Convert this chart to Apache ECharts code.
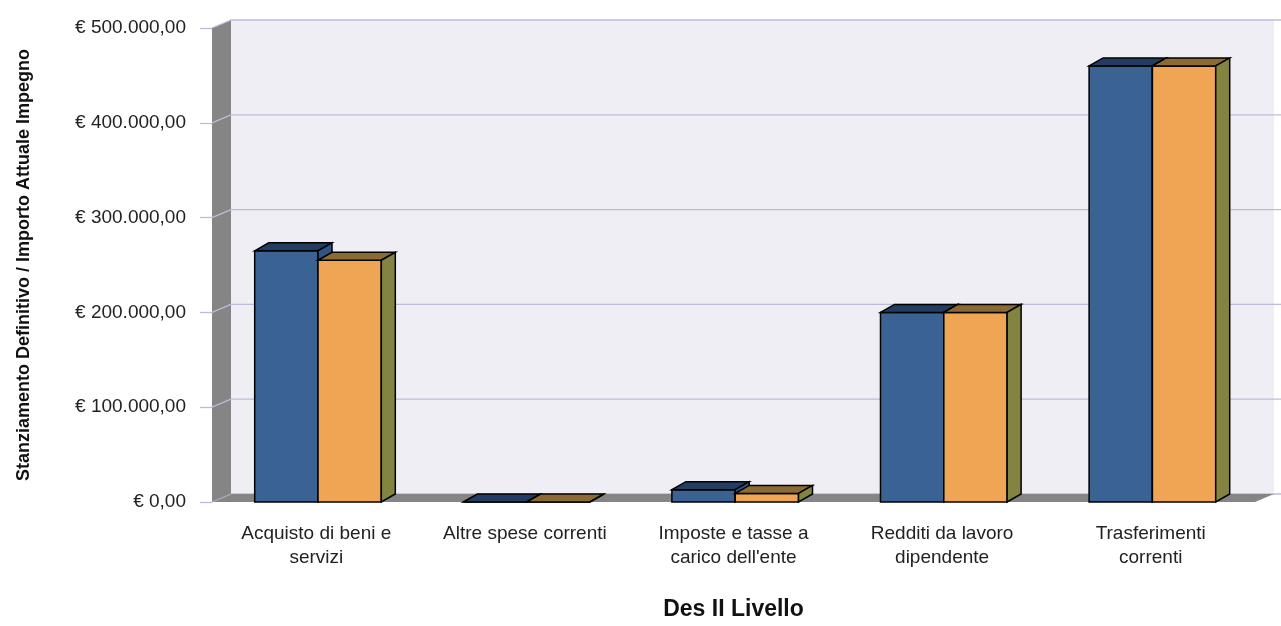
<!DOCTYPE html>
<html>
<head>
<meta charset="utf-8">
<script src="https://cdn.jsdelivr.net/npm/echarts@6/dist/echarts.min.js"></script>
<style>
html,body{margin:0;padding:0;background:#fff;}
#chart{width:1281px;height:626px;}
</style>
</head>
<body>
<div id="chart"></div>
<script>
// ---- data ----
const categories = [
  "Acquisto di beni e\nservizi",
  "Altre spese correnti",
  "Imposte e tasse a\ncarico dell'ente",
  "Redditi da lavoro\ndipendente",
  "Trasferimenti\ncorrenti"
];
const stanziamentoDefinitivo = [265000, 0, 13000, 200000, 460000];
const importoAttualeImpegno  = [255000, 0, 9000, 200000, 460000];
const yTickValues = [0, 100000, 200000, 300000, 400000, 500000];
const yAxisTitle = "Stanziamento Definitivo / Importo Attuale Impegno";
const xAxisTitle = "Des II Livello";

// ---- styling constants ----
const WALL_DX = 19, WALL_DY = -8;
const BAR_DX = 14, BAR_DY = -8;
const BAR_RATIO = 0.3035;
const BAR_SHIFT = 1.7;
const GRID_COLOR = '#BBBBDA';
const WALL_GRAY = '#858585';
const BACK_FILL = '#EEEEF4';
const BLUE = {front:'#3A6394', top:'#223C62', side:'#2F5382'};
const ORANGE = {front:'#F0A555', top:'#8C6A34', side:'#838342'};

function fmtEuro(v){
  const fixed = Math.round(v).toString();
  const withDots = fixed.replace(/\B(?=(\d{3})+(?!\d))/g, '.');
  return '€ ' + withDots + ',00';
}

const chart = echarts.init(document.getElementById('chart'), null, {renderer:'canvas'});

function renderWalls(params, api){
  const bw = api.size([1, 0])[0];
  const c0 = api.coord([0, 0]);
  const left = c0[0] - bw / 2;
  const right = left + bw * categories.length;
  const bottom = c0[1];
  const top = api.coord([0, yTickValues[yTickValues.length - 1]])[1];
  const children = [];
  children.push({type:'rect', shape:{x:left+WALL_DX, y:top+WALL_DY, width:right-left, height:bottom-top},
    style:{fill:BACK_FILL}});
  yTickValues.forEach(t => {
    const y = api.coord([0, t])[1] + WALL_DY;
    children.push({type:'line', shape:{x1:left+WALL_DX, y1:y, x2:right+WALL_DX+8, y2:y},
      style:{stroke:GRID_COLOR, lineWidth:1.3}});
  });
  children.push({type:'polygon', shape:{points:[[left,top],[left+WALL_DX,top+WALL_DY],[left+WALL_DX,bottom+WALL_DY],[left,bottom]]},
    style:{fill:WALL_GRAY}});
  children.push({type:'polygon', shape:{points:[[left,bottom],[left+WALL_DX,bottom+WALL_DY],[right+WALL_DX,bottom+WALL_DY],[right,bottom]]},
    style:{fill:WALL_GRAY}});
  yTickValues.forEach(t => {
    const y = api.coord([0, t])[1];
    children.push({type:'line', shape:{x1:left, y1:y, x2:left+WALL_DX, y2:y+WALL_DY},
      style:{stroke:t === 0 ? '#A9A9C9' : GRID_COLOR, lineWidth:1.3}});
  });
  return {type:'group', children};
}

function makeBarRenderer(slot, colors){
  return function(params, api){
    const idx = api.value(0), v = api.value(1);
    const c = api.coord([idx, v]);
    const base = api.coord([idx, 0]);
    const bw = api.size([1, 0])[0];
    const w = bw * BAR_RATIO;
    const x0 = c[0] - w + slot * w + BAR_SHIFT;
    const x1 = x0 + w;
    const yt = c[1], yb = base[1];
    const st = (fill) => ({fill, stroke:'#000', lineWidth:1.5, lineJoin:'miter'});
    return {type:'group', children:[
      {type:'polygon', shape:{points:[[x0,yb],[x1,yb],[x1,yt],[x0,yt]]}, style:st(colors.front)},
      {type:'polygon', shape:{points:[[x0,yt],[x0+BAR_DX,yt+BAR_DY],[x1+BAR_DX,yt+BAR_DY],[x1,yt]]}, style:st(colors.top)},
      {type:'polygon', shape:{points:[[x1,yt],[x1+BAR_DX,yt+BAR_DY],[x1+BAR_DX,yb+BAR_DY],[x1,yb]]}, style:st(colors.side)}
    ]};
  };
}

const option = {
  backgroundColor:'#ffffff',
  animation:false,
  grid:{left:212, right:26, top:28, bottom:121, containLabel:false},
  xAxis:{
    type:'category',
    data:categories,
    axisLine:{show:false},
    axisTick:{show:false},
    axisLabel:{color:'#222', fontFamily:'Liberation Sans', fontSize:19, lineHeight:24, margin:20, interval:0},
    name:xAxisTitle,
    nameLocation:'middle',
    nameGap:96,
    nameTextStyle:{color:'#111', fontFamily:'Liberation Sans', fontWeight:'bold', fontSize:23}
  },
  yAxis:{
    type:'value',
    min:0, max:500000, interval:100000,
    axisLine:{show:false},
    axisTick:{show:true, length:12, lineStyle:{color:GRID_COLOR, width:1.3}},
    splitLine:{show:false},
    axisLabel:{color:'#222', fontFamily:'Liberation Sans', fontSize:19, margin:26, formatter:fmtEuro},
    name:yAxisTitle,
    nameLocation:'middle',
    nameGap:179,
    nameRotate:90,
    nameTextStyle:{color:'#111', fontFamily:'Liberation Sans', fontWeight:'bold', fontSize:18}
  },
  series:[
    {type:'custom', name:'walls', renderItem:renderWalls, data:[[0,0]], silent:true, clip:false, z:1},
    {type:'custom', name:'Stanziamento Definitivo', renderItem:makeBarRenderer(0, BLUE),
      data:stanziamentoDefinitivo.map((v,i)=>[i,v]), z:2, clip:false},
    {type:'custom', name:'Importo Attuale Impegno', renderItem:makeBarRenderer(1, ORANGE),
      data:importoAttualeImpegno.map((v,i)=>[i,v]), z:3, clip:false}
  ]
};
chart.setOption(option);
</script>
</body>
</html>
